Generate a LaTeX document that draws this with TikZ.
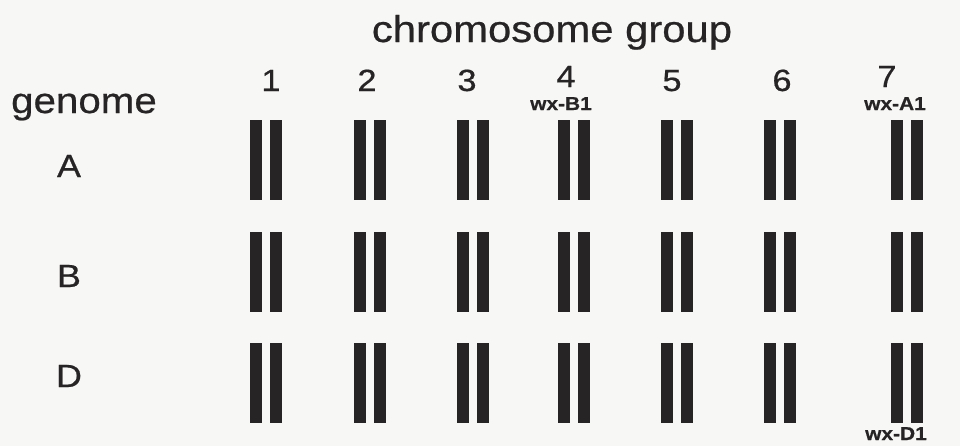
\documentclass[tikz,border=0pt]{standalone}
\usepackage{fontspec}
\setmainfont{Liberation Sans}[FakeStretch=1.12,FakeBold=0.6]
\usetikzlibrary{positioning}
\definecolor{paper}{RGB}{247,247,245}
\definecolor{ink}{RGB}{38,36,36}
\tikzset{
  chromatid/.style={fill=ink,minimum width=9.4pt,minimum height=60pt,inner sep=0pt,outer sep=0pt},
  heading/.style={text=ink,inner sep=0pt,font=\fontsize{#1}{#1}\selectfont},
  heading/.default=23,
  gene/.style={text=ink,inner sep=0pt,font=\fontsize{14}{14}\selectfont\bfseries},
}
\begin{document}
\begin{tikzpicture}[x=0.75pt,y=-0.75pt]
  \fill[paper] (0,0) rectangle (960,446);
  \useasboundingbox (0,0) rectangle (960,446);
  \node[heading=28,anchor=base] (title) at (552,42) {chromosome group};
  \node[heading=27,anchor=base] (genome) at (84,113) {genome};
  % groups: number, then one pair per genome
  \foreach \g/\x/\n/\b in {1/266/271/91,2/370/367/91,3/473/467/91,4/574/566/87,5/677/672/91,6/780/782/91,7/907/887/87}{
    \node[heading,anchor=base] (num\g) at (\n,\b) {\g};
    \foreach \r/\y in {A/160,B/272,D/383}{
      \node[chromatid] (\r\g-l) at (\x-10,\y) {};
      \node[chromatid] (\r\g-r) at (\x+10,\y) {};
    }
  }
  \foreach \r/\y in {A/177,B/287,D/387}
    \node[heading=24,anchor=base] (lab\r) at (69,\y) {\r};
  \node[gene,anchor=base] (wxB) at (561,110) {wx-B1};
  \node[gene,anchor=base] (wxA) at (895,110) {wx-A1};
  \node[gene,anchor=base] (wxD) at (896,440) {wx-D1};
\end{tikzpicture}
\end{document}
